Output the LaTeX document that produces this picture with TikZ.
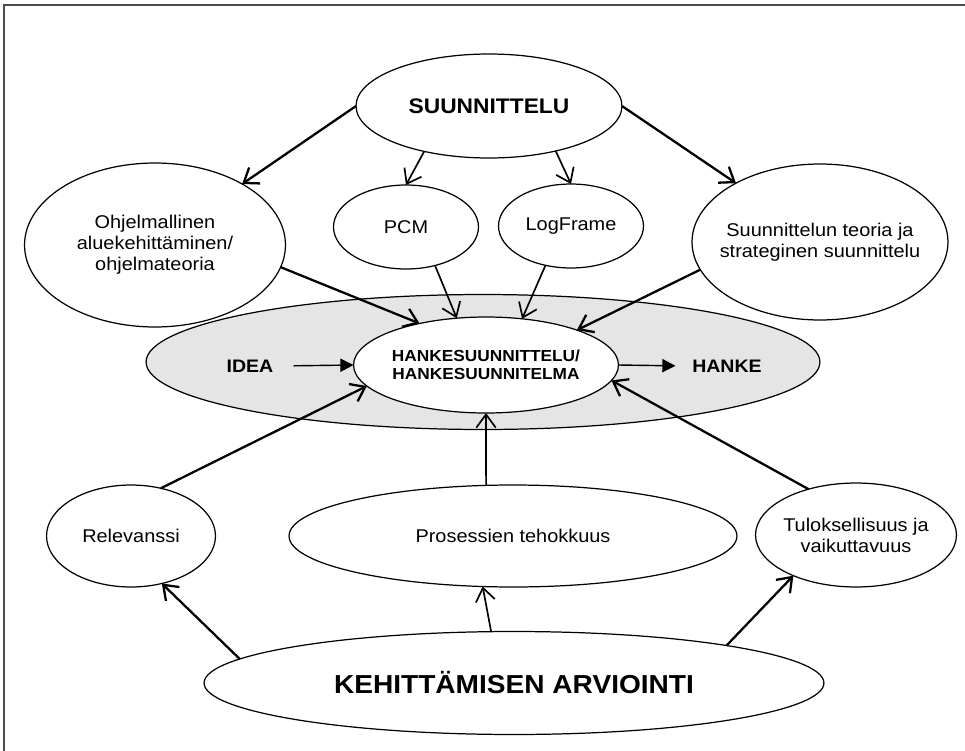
\documentclass[tikz,border=0pt]{standalone}
\usepackage{fontspec}
\setmainfont{Liberation Sans}[FakeStretch=1.08]
\usepackage{tikz}
\usetikzlibrary{shapes.geometric,arrows.meta}

\begin{document}
\begin{tikzpicture}[
        x=0.02cm, y=-0.02cm,
        bubble/.style={ellipse, draw, line width=0.7pt, inner sep=-1cm, outer sep=0pt,
            align=center, font=\fontsize{10.5}{12}\selectfont},
        link/.style={-{Straight Barb[length=7.5pt,width=11pt]}, line width=1.3pt},
        thinlink/.style={link, line width=0.95pt},
        flow/.style={-{Triangle[length=7.5pt,width=7.5pt]}, line width=0.8pt},
        bold/.style={font=\fontsize{10.3}{12}\selectfont\bfseries}
    ]
    \useasboundingbox (0,0) rectangle (965,751);
    \draw[line width=1.1pt, black!70] (4,751) -- (4,5) -- (965,5);

    % suunnittelu
    \node[bubble, minimum width=5.32cm, minimum height=2.08cm,
        font=\fontsize{12}{14}\selectfont\bfseries] (suunnittelu) at (489,106) {SUUNNITTELU};
    \node[bubble, minimum width=5.22cm, minimum height=3.28cm] (ohjelma) at (155,245)
        {Ohjelmallinen\\aluekehittäminen/\\ohjelmateoria};
    \node[bubble, minimum width=2.9cm, minimum height=1.68cm] (pcm) at (406,227) {PCM};
    \node[bubble, minimum width=2.9cm, minimum height=1.68cm] (logframe) at (571,226) {LogFrame};
    \node[bubble, minimum width=5.12cm, minimum height=3.12cm] (teoria) at (820,242)
        {Suunnittelun teoria ja\\strateginen suunnittelu};

    % hankevaihe
    \node[bubble, fill=black!10, minimum width=13.48cm, minimum height=2.7cm] (hankevaihe) at (483,362) {};
    \node[bubble, fill=white, minimum width=5.3cm, minimum height=1.92cm,
        font=\fontsize{9.1}{10.2}\selectfont\bfseries] (hsuunnitelma) at (486,365)
        {HANKESUUNNITTELU/\\HANKESUUNNITELMA};
    \node[bold] (idea) at (250,366) {IDEA};
    \node[bold] (hanke) at (727,366) {HANKE};

    % arviointi
    \node[bubble, minimum width=3.38cm, minimum height=2.04cm] (relevanssi) at (131,536) {Relevanssi};
    \node[bubble, minimum width=8.96cm, minimum height=2.04cm] (tehokkuus) at (513,536) {Prosessien tehokkuus};
    \node[bubble, minimum width=4.02cm, minimum height=2.08cm] (tuloksellisuus) at (856,535)
        {Tuloksellisuus ja\\vaikuttavuus};
    \node[bubble, minimum width=12.4cm, minimum height=2.06cm,
        font=\fontsize{14.8}{17}\selectfont\bfseries] (arviointi) at (514,683) {KEHITTÄMISEN ARVIOINTI};

    \draw[link] (suunnittelu.180) -- (ohjelma.35);
    \draw[thinlink] (suunnittelu.215) -- (pcm.north);
    \draw[thinlink] (suunnittelu.326) -- (logframe.north);
    \draw[link] (suunnittelu.0) -- (teoria.145);
    \draw[link] (ohjelma.350) -- (hsuunnitelma.148);
    \draw[thinlink] (pcm.307) -- (hsuunnitelma.122);
    \draw[thinlink] (logframe.237) -- (hsuunnitelma.52);
    \draw[link] (teoria.193) -- (hsuunnitelma.21);
    \draw[flow, shorten <=8pt] (idea.east) -- (hsuunnitelma.west);
    \draw[flow, shorten >=6pt] (hsuunnitelma.east) -- (hanke.west);
    \draw[link] (relevanssi.58) -- (hsuunnitelma.190);
    \draw[thinlink] (tehokkuus.118) -- (hsuunnitelma.south);
    \draw[link] (tuloksellisuus.136) -- (hsuunnitelma.353);
    \draw[link] (arviointi.175) -- (relevanssi.303);
    \draw[thinlink] (arviointi.114) -- (tehokkuus.239);
    \draw[link] (arviointi.10) -- (tuloksellisuus.213);
\end{tikzpicture}
\end{document}
